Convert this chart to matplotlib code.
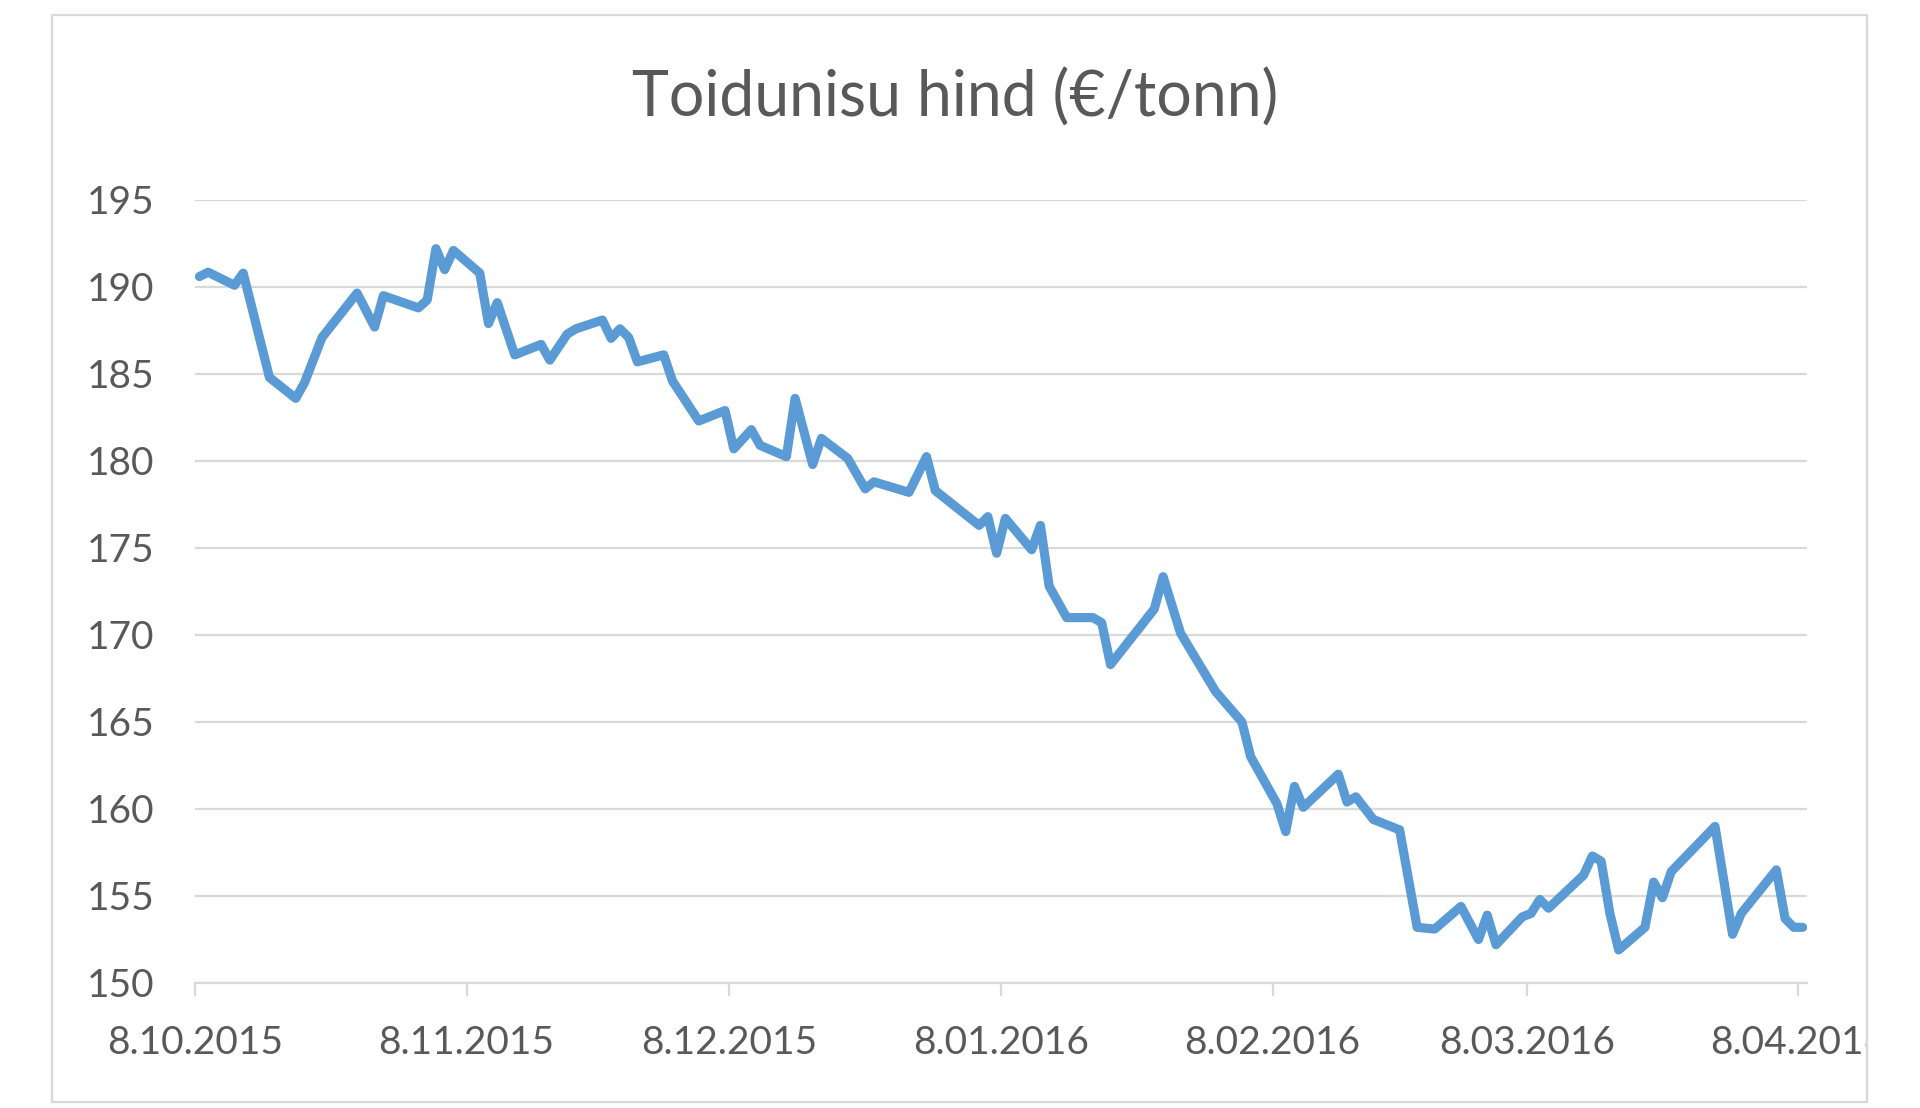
import matplotlib
matplotlib.use("Agg")
import matplotlib.pyplot as plt
import matplotlib.dates as mdates
from matplotlib.patches import Rectangle
from matplotlib.transforms import Bbox, TransformedBbox
import pandas as pd

# ---- data ----
start_date = "2015-10-08"
day_offsets = [0, 1, 4, 5, 8, 11, 12, 14, 18, 20, 21, 25, 26, 27, 28, 29, 32, 33, 34, 36,
               39, 40, 42, 43, 46, 47, 48, 49, 50, 53, 54, 57, 60, 61, 63, 64, 67, 68, 70, 71,
               74, 76, 77, 81, 83, 84, 89, 90, 91, 92, 95, 96, 97, 99, 102, 103, 104, 109, 110, 112,
               116, 119, 120, 123, 124, 125, 126, 130, 131, 132, 134, 137, 139, 141, 144, 146, 147, 148,
               151, 152, 153, 154, 158, 159, 160, 161, 162, 165, 166, 167, 168, 173, 175, 176, 180,
               181, 182, 183]
prices = [190.6, 190.85, 190.1, 190.8, 184.8, 183.6, 184.5, 187.1, 189.65, 187.7, 189.5, 188.8,
          189.25, 192.2, 191.0, 192.1, 190.8, 187.9, 189.1, 186.1,
          186.7, 185.8, 187.3, 187.6, 188.1, 187.05, 187.6, 187.1, 185.7, 186.1, 184.6, 182.3,
          182.9, 180.7, 181.8, 180.9, 180.25, 183.6, 179.8, 181.3,
          180.15, 178.4, 178.8, 178.2, 180.25, 178.3, 176.3, 176.8, 174.7, 176.7, 174.9, 176.3,
          172.8, 171.0, 171.0, 170.7, 168.3, 171.5, 173.35, 170.1,
          166.75, 165.0, 163.0, 160.3, 158.7, 161.3, 160.1, 162.0, 160.4, 160.7, 159.4, 158.8,
          153.2, 153.1, 154.4, 152.5, 153.9, 152.2,
          153.8, 154.0, 154.8, 154.3, 156.2, 157.3, 157.0, 154.0, 151.9, 153.2, 155.8, 154.9,
          156.4, 159.0, 152.8, 154.0, 156.5,
          153.7, 153.2, 153.2]
tick_dates = ["2015-10-08", "2015-11-08", "2015-12-08", "2016-01-08",
              "2016-02-08", "2016-03-08", "2016-04-08"]
tick_labels = ["8.10.2015", "8.11.2015", "8.12.2015", "8.01.2016",
               "8.02.2016", "8.03.2016", "8.04.2016"]
y_ticks = [150, 155, 160, 165, 170, 175, 180, 185, 190, 195]
title = "Toidunisu hind (€/tonn)"

# ---- figure ----
W, H = 1920, 1108
fig = plt.figure(figsize=(W / 100, H / 100), dpi=100)
fig.patch.set_facecolor("white")

TEXT = "#595959"
GRID = "#d9d9d9"
BLUE = "#5B9BD5"
FONT = ["Lato", "DejaVu Sans"]

# chart border
fig.patches.append(Rectangle((52 / W, 1 - 1102 / H), (1867 - 52) / W, (1102 - 15) / H,
                             transform=fig.transFigure, fill=False, edgecolor=GRID,
                             linewidth=1.6, zorder=0))

ax = fig.add_axes([195 / W, 1 - 983 / H, (1807 - 195) / W, (983 - 200) / H])

t0 = pd.Timestamp(start_date)
dates = t0 + pd.to_timedelta(day_offsets, unit="D") + pd.Timedelta(hours=12)
ax.plot(dates, prices, color=BLUE, linewidth=6.6, solid_joinstyle="round",
        solid_capstyle="round", zorder=3)

ax.set_ylim(150, 195)
ax.set_yticks(y_ticks)
ax.set_xlim(t0, t0 + pd.Timedelta(days=184))
ax.set_xticks(pd.to_datetime(tick_dates))
ax.set_xticklabels(tick_labels)

ax.grid(axis="y", color=GRID, linewidth=1.6)
ax.set_axisbelow(True)
for s in ("top", "right", "left"):
    ax.spines[s].set_visible(False)
ax.spines["bottom"].set_color(GRID)
ax.spines["bottom"].set_linewidth(1.6)
ax.spines["bottom"].set_zorder(1)

ax.tick_params(axis="y", length=0, pad=29, labelsize=28, labelcolor=TEXT)
ax.tick_params(axis="x", length=9.5, width=1.6, color=GRID, direction="out",
               pad=21, labelsize=28, labelcolor=TEXT)
for lbl in ax.get_xticklabels() + ax.get_yticklabels():
    lbl.set_fontfamily(FONT)

clip = TransformedBbox(Bbox([[52 / W, 0], [1866 / W, 1]]), fig.transFigure)
for tk in ax.xaxis.get_major_ticks():
    tk.label1.set_clip_box(clip)
    tk.label1.set_clip_on(True)

fig.text(955 / W, 1 - 117 / H, title, ha="center", va="baseline",
         fontsize=45, color=TEXT, family=FONT)

fig.savefig("out.png", dpi=100)
